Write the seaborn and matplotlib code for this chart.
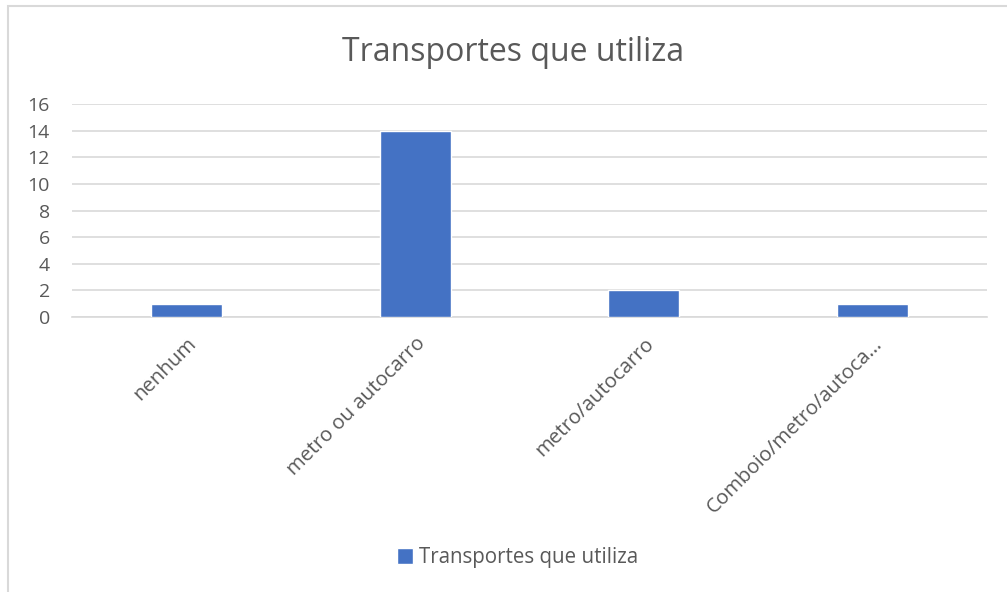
import matplotlib
matplotlib.use("Agg")
import matplotlib.pyplot as plt
import pandas as pd
import seaborn as sns
from matplotlib.patches import Rectangle

categories = ["nenhum", "metro ou autocarro", "metro/autocarro", "Comboio/metro/autoca…"]
counts = [1, 14, 2, 1]
series_name = "Transportes que utiliza"
y_ticks = [0, 2, 4, 6, 8, 10, 12, 14, 16]

df = pd.DataFrame({"transporte": categories, "count": counts})

sns.set_style("white")
plt.rcParams["font.family"] = ["Open Sans", "DejaVu Sans"]

text_color = "#595959"
grid_color = "#D9D9D9"
bar_color = "#4472C4"

fig = plt.figure(figsize=(10.07, 5.92), dpi=100)
ax = fig.add_axes([0.0715, 0.4645, 0.9085, 0.3595])

sns.barplot(data=df, x="transporte", y="count", color=bar_color, width=0.31,
            saturation=1, ax=ax, zorder=3)

ax.set_ylim(0, 16)
ax.set_xlim(-0.5, len(categories) - 0.5)
ax.set_yticks(y_ticks)
ax.yaxis.grid(True, color=grid_color, linewidth=1.2, zorder=0)
for s in ["top", "right", "left"]:
    ax.spines[s].set_visible(False)
ax.spines["bottom"].set_color(grid_color)
ax.spines["bottom"].set_linewidth(1.2)
ax.tick_params(axis="y", length=0, labelsize=14, colors=text_color, pad=16)
ax.tick_params(axis="x", length=0, labelsize=14.7, colors=text_color, pad=12)
plt.setp(ax.get_xticklabels(), rotation=45, ha="right", va="top", rotation_mode="anchor")
ax.set_xlabel("")
ax.set_ylabel("")

fig.suptitle(series_name, x=0.509, y=0.94, fontsize=23, color=text_color)

handle = Rectangle((0, 0), 1, 1, facecolor=bar_color)
fig.legend([handle], [series_name], loc="center", bbox_to_anchor=(0.514, 0.058),
           frameon=False, fontsize=14.8, labelcolor=text_color,
           handlelength=0.75, handleheight=0.75, handletextpad=0.3)

# chart frame (only left and top edges fall inside the image)
fig.patches.append(Rectangle((0.008, -0.2), 1.2, 1.19, transform=fig.transFigure,
                             fill=False, edgecolor=grid_color, linewidth=1.5))

fig.savefig("out.png", dpi=100)
